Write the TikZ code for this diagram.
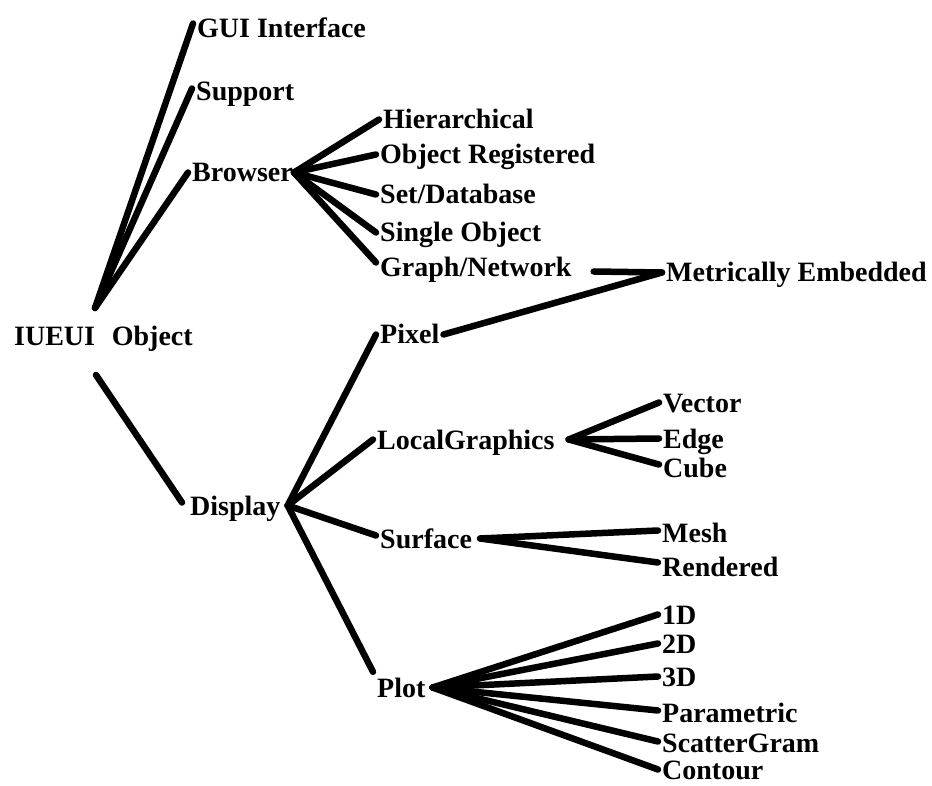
\documentclass[tikz,border=0pt]{standalone}
\usepackage{fontspec}
\setmainfont{Liberation Serif}
\begin{document}
\begin{tikzpicture}[x=1pt,y=-1pt,
  lbl/.style={font=\bfseries\fontsize{28}{30}\selectfont, inner xsep=4pt, inner ysep=0pt,
    text height=19pt, text depth=0pt, anchor=base west},
  br/.style={line width=6.5pt, line cap=round}]
\useasboundingbox[fill=white] (0,0) rectangle (932,786);
% nodes
\node[lbl] (gui) at (193,38) {GUI Interface};
\node[lbl] (sup) at (192,101) {Support};
\node[lbl] (bro) at (188,182) {Browser};
\node[lbl] (hie) at (379,129) {Hierarchical};
\node[lbl] (obr) at (376,164) {Object Registered};
\node[lbl] (set) at (376,204) {Set/Database};
\node[lbl] (sin) at (376,242) {Single Object};
\node[lbl] (gra) at (376,277) {Graph/Network};
\node[lbl] (met) at (662,282) {Metrically Embedded};
\node[lbl] (root) at (10,345) {IUEUI\hspace{0.6em}Object};
\node[lbl] (pix) at (376,344) {Pixel};
\node[lbl] (loc) at (373,449) {LocalGraphics};
\node[lbl] (vec) at (659,412) {Vector};
\node[lbl] (edg) at (659,448) {Edge};
\node[lbl] (cub) at (659,477) {Cube};
\node[lbl] (dis) at (186,515) {Display};
\node[lbl] (sur) at (376,548) {Surface};
\node[lbl] (mes) at (658,542) {Mesh};
\node[lbl] (ren) at (658,576) {Rendered};
\node[lbl] (d1) at (658,624) {1D};
\node[lbl] (d2) at (658,653) {2D};
\node[lbl] (d3) at (658,686) {3D};
\node[lbl] (plo) at (373,697) {Plot};
\node[lbl] (par) at (658,722) {Parametric};
\node[lbl] (sca) at (658,752) {ScatterGram};
\node[lbl] (con) at (658,779) {Contour};
% junction coordinates
\coordinate (rootup) at (95,308);
\coordinate (rootdn) at (96,375);
\coordinate (bj) at ([xshift=-3pt]bro.east);
\coordinate (gj) at ([xshift=18pt,yshift=-4pt]gra.east);
\coordinate (dj) at ([xshift=3pt]dis.east);
\coordinate (lj) at ([xshift=10pt]loc.east);
\coordinate (sj) at ([xshift=4pt]sur.east);
\coordinate (pj) at ([xshift=3pt]plo.east);
% connectors
\draw[br] (rootup) -- ([yshift=5pt]gui.west);
\draw[br] (rootup) -- ([yshift=3pt]sup.west);
\draw[br] (rootup) -- (bro.west);
\draw[br] (bj) -- (hie.west);
\draw[br] (bj) -- (obr.west);
\draw[br] (bj) -- (set.west);
\draw[br] (bj) -- (sin.west);
\draw[br] (bj) -- ([yshift=5pt]gra.west);
\draw[br] (gj) -- (met.west);
\draw[br] (pix.east) -- (met.west);
\draw[br] (rootdn) -- ([xshift=-4pt,yshift=3pt]dis.west);
\draw[br] (dj) -- (pix.west);
\draw[br] (dj) -- (loc.west);
\draw[br] (dj) -- ([yshift=3pt]sur.west);
\draw[br] (dj) -- ([yshift=6pt]plo.north west);
\draw[br] (lj) -- (vec.west);
\draw[br] (lj) -- (edg.west);
\draw[br] (lj) -- ([yshift=3pt]cub.west);
\draw[br] (sj) -- ([yshift=2pt]mes.west);
\draw[br] (sj) -- ([yshift=4pt]ren.west);
\draw[br] (pj) -- (d1.west);
\draw[br] (pj) -- (d2.west);
\draw[br] (pj) -- (d3.west);
\draw[br] (pj) -- ([yshift=2pt]par.west);
\draw[br] (pj) -- ([yshift=1pt]sca.west);
\draw[br] (pj) -- (con.west);
\end{tikzpicture}
\end{document}
